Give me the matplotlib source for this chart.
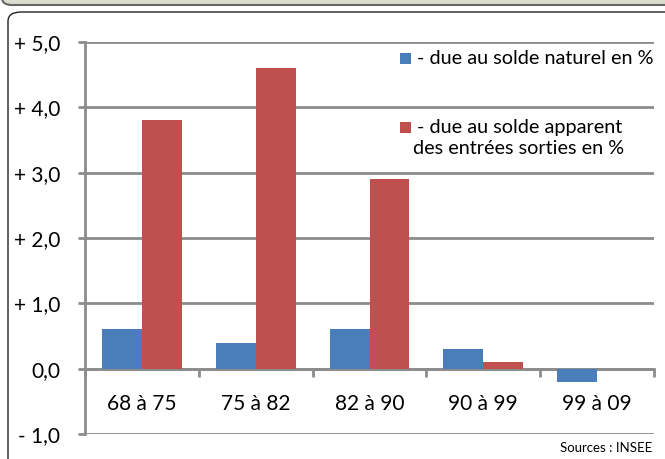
import matplotlib.pyplot as plt
from matplotlib.patches import FancyBboxPatch, Rectangle
import numpy as np

plt.rcParams['font.family'] = ['Lato', 'DejaVu Sans']

periodes = ["68 à 75", "75 à 82", "82 à 90", "90 à 99", "99 à 09"]
solde_naturel = [0.6, 0.4, 0.6, 0.3, -0.2]
solde_migratoire = [3.8, 4.6, 2.9, 0.1, 0.0]
yticks = [-1, 0, 1, 2, 3, 4, 5]
ytick_labels = ["- 1,0", "0,0", "+ 1,0", "+ 2,0", "+ 3,0", "+ 4,0", "+ 5,0"]

bleu = "#4a7ebb"
rouge = "#c0504d"
gris = "#8c8c8c"

W, H = 665, 459
fig = plt.figure(figsize=(W / 100, H / 100), dpi=100)

# cadre et bandeau
fig.patches.append(FancyBboxPatch((8 / W, -20 / H), 700 / W, (459 - 12 + 20) / H,
                                  boxstyle="round,pad=0,rounding_size=0.02",
                                  transform=fig.transFigure, fc="white", ec="#222222",
                                  lw=1.0, zorder=-5))
fig.patches.append(FancyBboxPatch((2 / W, 454 / H), 700 / W, 20 / H,
                                  boxstyle="round,pad=0,rounding_size=0.015",
                                  transform=fig.transFigure, fc="#dddcd1", ec="#666666",
                                  lw=1.5, zorder=-5))

ax = fig.add_axes([85 / W, (H - 434) / H, (654 - 85) / W, (434 - 42) / H])
ax.set_facecolor("none")
ax.set_zorder(2)

x = np.arange(len(periodes))
w = 0.35
ax.bar(x - w / 2, solde_naturel, w, color=bleu, zorder=3)
ax.bar(x + w / 2, solde_migratoire, w, color=rouge, zorder=3)

ax.set_xlim(-0.5, len(periodes) - 0.5)
ax.set_ylim(-1, 5)
ax.set_yticks(yticks)
ax.set_yticklabels(ytick_labels, fontsize=15)
ax.yaxis.grid(True, color=gris, lw=2, zorder=1)
ax.set_axisbelow(True)

for s in ["top", "right"]:
    ax.spines[s].set_visible(False)
ax.spines["left"].set_color(gris)
ax.spines["left"].set_linewidth(2)
ax.spines["bottom"].set_position(("data", 0))
ax.spines["bottom"].set_color(gris)
ax.spines["bottom"].set_linewidth(2)

ax.tick_params(axis="y", length=5, width=2, color=gris, pad=13)
ax.set_xticks(x)
ax.set_xticklabels(periodes, fontsize=15)
ax.tick_params(axis="x", length=0, pad=18)
ax.set_xticks(np.arange(len(periodes) + 1) - 0.5, minor=True)
ax.tick_params(axis="x", which="minor", length=6, width=2, color=gris)

# légende
fig.patches.append(Rectangle((400 / W, (H - 64) / H), 11 / W, 11 / H,
                             transform=fig.transFigure, fc=bleu, ec="none", zorder=5))
fig.text(417 / W, (H - 58) / H, "- due au solde naturel en %", fontsize=14.3, va="center")
fig.patches.append(Rectangle((400 / W, (H - 133) / H), 11 / W, 11 / H,
                             transform=fig.transFigure, fc=rouge, ec="none", zorder=5))
fig.text(417 / W, (H - 127) / H, "- due au solde apparent", fontsize=14.3, va="center")
fig.text(413 / W, (H - 149) / H, "des entrées sorties en %", fontsize=14.3, va="center")

fig.text(652 / W, (H - 448) / H, "Sources : INSEE", fontsize=9.5, ha="right", va="center")

fig.savefig("out.png", dpi=100)
